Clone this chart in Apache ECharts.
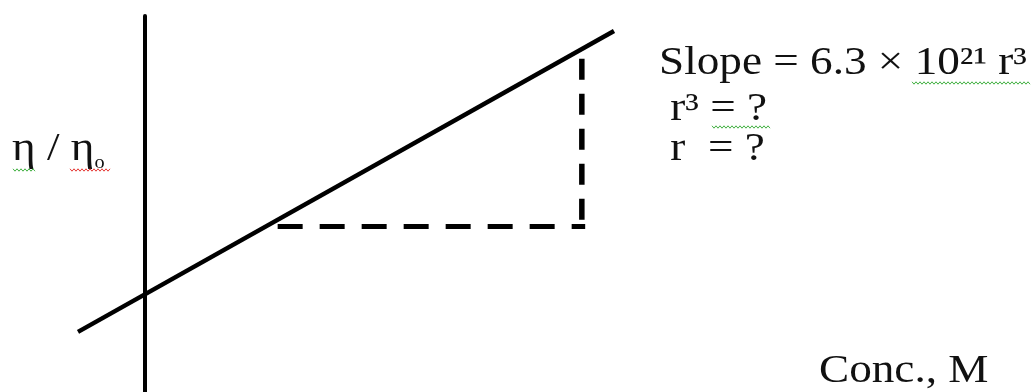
<!DOCTYPE html>
<html>
<head>
<meta charset="utf-8">
<script src="https://cdn.jsdelivr.net/npm/echarts@6/dist/echarts.min.js"></script>
<style>
  html, body { margin: 0; padding: 0; background: #fff; }
  #chart { width: 1034px; height: 392px; }
</style>
</head>
<body>
<div id="chart"></div>
<script>
// Axis ranges of the schematic plot (concentration vs. relative viscosity)
const xRange = [-2, 13];
const yRange = [-0.3, 4.7];

// Straight-line fit of eta/eta0 against concentration
const fitLine = [[-1, 0.5], [7, 4.5]];

// Slope triangle: horizontal run and vertical rise
const runGuide = [[1.98, 1.9], [6.57, 1.9]];
const riseGuide = [[6.52, 4.13], [6.52, 1.95]];

// Annotation lines
const slopeText = 'Slope = 6.3 × 10²¹ r³';
const rCubedText = ' r³ = ?';
const rText = ' r  = ?';
const yTitle = 'η / η{sub|o}';
const xTitle = 'Conc., M';

const serif = '"Liberation Serif", "Times New Roman", serif';
const fs = 40;
const lh = 48;
const stretch = 1.13;

const richStyles = {
  sub: { fontSize: 18, lineHeight: 18, fontFamily: serif, verticalAlign: 'bottom', padding: [0, 0, 1, 0] }
};

function label(text, x, y) {
  return {
    type: 'text', x: x, y: y, scaleX: stretch, silent: true,
    style: {
      text: text, fontSize: fs, fontFamily: serif, lineHeight: lh,
      fill: '#111', rich: richStyles
    }
  };
}

// small wavy underline, like a proofing mark
function squiggle(x0, x1, y, color) {
  const pts = [];
  let up = true;
  for (let x = x0; x <= x1; x += 2) {
    pts.push([x, up ? y - 1.2 : y + 1.2]);
    up = !up;
  }
  return {
    type: 'polyline',
    silent: true,
    shape: { points: pts },
    style: { stroke: color, lineWidth: 1, fill: null }
  };
}

const chart = echarts.init(document.getElementById('chart'), null, { renderer: 'canvas' });

chart.setOption({
  backgroundColor: '#fff',
  animation: false,
  grid: { left: 11, right: 18, top: 16, bottom: 0 },
  xAxis: {
    type: 'value', min: xRange[0], max: xRange[1],
    axisLine: { show: false }, axisTick: { show: false },
    axisLabel: { show: false }, splitLine: { show: false }
  },
  yAxis: {
    type: 'value', min: yRange[0], max: yRange[1],
    axisLine: { show: true, onZero: true, lineStyle: { color: '#000', width: 4 } },
    axisTick: { show: false }, axisLabel: { show: false }, splitLine: { show: false }
  },
  series: [
    {
      type: 'line', data: fitLine, showSymbol: false, silent: true,
      lineStyle: { color: '#000', width: 4.5 }
    },
    {
      type: 'line', data: runGuide, showSymbol: false, silent: true,
      lineStyle: { color: '#000', width: 5, type: [25, 17] }
    },
    {
      type: 'line', data: riseGuide, showSymbol: false, silent: true,
      lineStyle: { color: '#000', width: 5.5, type: [21, 14] }
    }
  ],
  graphic: [
    label(slopeText, 659, 39.5),
    label(rCubedText, 659, 85.5),
    label(rText, 659, 125.5),
    label(yTitle, 12, 125.5),
    label(xTitle, 819, 347.5),
    squiggle(912, 1030, 83, '#43b143'),
    squiggle(712, 770, 127, '#43b143'),
    squiggle(13, 35, 170, '#43b143'),
    squiggle(70, 110, 170, '#e53935')
  ]
});
</script>
</body>
</html>
